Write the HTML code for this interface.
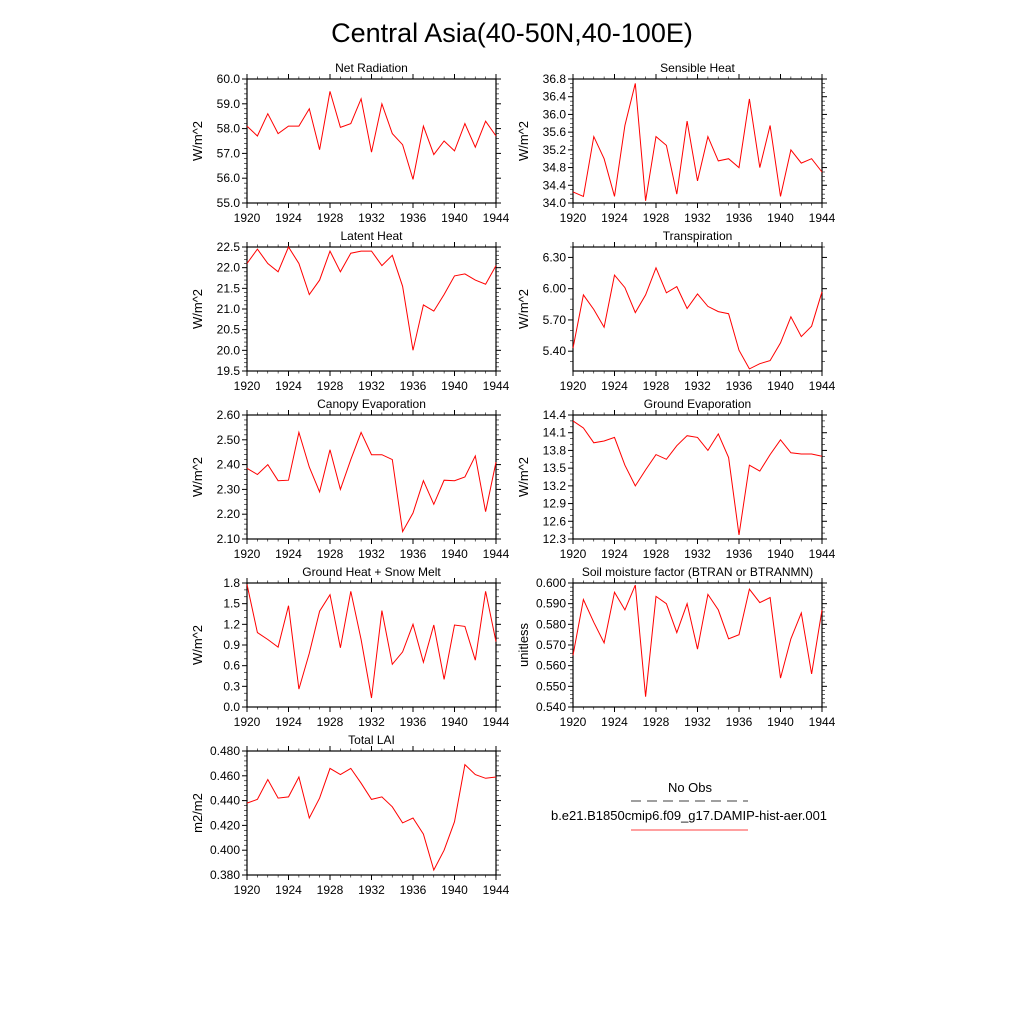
<!DOCTYPE html>
<html><head><meta charset="utf-8"><style>
body{margin:0;background:#fff}
svg{font-family:"Liberation Sans",sans-serif}
</style></head><body>
<svg id="s" width="1024" height="1024" viewBox="0 0 1024 1024" xmlns="http://www.w3.org/2000/svg">
<text x="512" y="42" font-size="27" text-anchor="middle">Central Asia(40-50N,40-100E)</text>
<g>
<text x="690" y="792" font-size="13" text-anchor="middle">No Obs</text>
<line x1="631" y1="801" x2="748" y2="801" stroke="#000" stroke-width="0.8" stroke-dasharray="10,6"/>
<text x="689" y="820" font-size="13" text-anchor="middle">b.e21.B1850cmip6.f09_g17.DAMIP-hist-aer.001</text>
<line x1="631" y1="830" x2="748" y2="830" stroke="#f00" stroke-width="0.8"/>
</g>
</svg>
<script>
const years=[];for(let y=1920;y<=1944;y++)years.push(y);
const xTicks=[1920,1924,1928,1932,1936,1940,1944];
const netRad=[58.1,57.7,58.6,57.8,58.1,58.1,58.8,57.15,59.5,58.05,58.2,59.2,57.05,59.0,57.8,57.35,55.95,58.1,56.95,57.5,57.1,58.2,57.25,58.3,57.7];
const sensible=[34.25,34.15,35.5,35.0,34.15,35.75,36.7,34.05,35.5,35.3,34.2,35.85,34.5,35.5,34.95,35.0,34.8,36.35,34.8,35.75,34.15,35.2,34.9,35.0,34.7];
const latent=[22.1,22.45,22.1,21.9,22.5,22.1,21.35,21.7,22.4,21.9,22.35,22.4,22.4,22.05,22.3,21.55,20.0,21.1,20.95,21.35,21.8,21.85,21.7,21.6,22.05];
const transp=[5.43,5.94,5.8,5.63,6.13,6.01,5.77,5.94,6.2,5.96,6.02,5.81,5.95,5.83,5.78,5.76,5.41,5.23,5.28,5.31,5.48,5.73,5.54,5.64,5.97];
const canopy=[2.385,2.36,2.40,2.335,2.337,2.53,2.39,2.29,2.46,2.30,2.42,2.53,2.44,2.44,2.42,2.13,2.205,2.335,2.24,2.337,2.335,2.35,2.435,2.21,2.41];
const groundEvap=[14.3,14.18,13.93,13.96,14.02,13.55,13.2,13.47,13.73,13.65,13.88,14.05,14.02,13.8,14.08,13.68,12.37,13.55,13.45,13.73,13.98,13.76,13.74,13.74,13.7];
const groundHeat=[1.78,1.08,0.98,0.87,1.47,0.26,0.78,1.39,1.63,0.86,1.68,0.98,0.13,1.40,0.62,0.80,1.20,0.65,1.19,0.40,1.19,1.17,0.68,1.68,0.95];
const soil=[0.565,0.592,0.581,0.571,0.5955,0.587,0.599,0.545,0.5935,0.590,0.576,0.590,0.568,0.5945,0.587,0.573,0.575,0.597,0.5905,0.593,0.554,0.573,0.5855,0.556,0.587];
const lai=[0.438,0.441,0.457,0.442,0.443,0.459,0.426,0.442,0.466,0.461,0.466,0.454,0.441,0.443,0.435,0.422,0.426,0.413,0.384,0.400,0.423,0.469,0.461,0.458,0.459];
const ticksNet=[55,56,57,58,59,60];
const ticksSens=[34.0,34.4,34.8,35.2,35.6,36.0,36.4,36.8];
const ticksLat=[19.5,20,20.5,21,21.5,22,22.5];
const ticksTr=[5.4,5.7,6.0,6.3];
const ticksCan=[2.1,2.2,2.3,2.4,2.5,2.6];
const ticksGE=[12.3,12.6,12.9,13.2,13.5,13.8,14.1,14.4];
const ticksGH=[0,0.3,0.6,0.9,1.2,1.5,1.8];
const ticksSoil=[0.54,0.55,0.56,0.57,0.58,0.59,0.6];
const ticksLai=[0.38,0.40,0.42,0.44,0.46,0.48];
const NS='http://www.w3.org/2000/svg';
const svg=document.getElementById('s');
function mk(tag,attrs,parent){const e=document.createElementNS(NS,tag);for(const k in attrs)e.setAttribute(k,attrs[k]);parent.appendChild(e);return e;}
const panels=[
 {name:'net-radiation',title:'Net Radiation',unit:'W/m^2',x:247,y:79,w:249,data:netRad,ticks:ticksNet,min:55,max:60,dec:1,minor:5},
 {name:'sensible-heat',title:'Sensible Heat',unit:'W/m^2',x:573,y:79,w:249,data:sensible,ticks:ticksSens,min:34,max:36.8,dec:1,minor:4},
 {name:'latent-heat',title:'Latent Heat',unit:'W/m^2',x:247,y:247,w:249,data:latent,ticks:ticksLat,min:19.5,max:22.5,dec:1,minor:5},
 {name:'transpiration',title:'Transpiration',unit:'W/m^2',x:573,y:247,w:249,data:transp,ticks:ticksTr,min:5.21,max:6.4,dec:2,minor:3},
 {name:'canopy-evaporation',title:'Canopy Evaporation',unit:'W/m^2',x:247,y:415,w:249,data:canopy,ticks:ticksCan,min:2.1,max:2.6,dec:2,minor:5},
 {name:'ground-evaporation',title:'Ground Evaporation',unit:'W/m^2',x:573,y:415,w:249,data:groundEvap,ticks:ticksGE,min:12.3,max:14.4,dec:1,minor:3},
 {name:'ground-heat-snow-melt',title:'Ground Heat + Snow Melt',unit:'W/m^2',x:247,y:583,w:249,data:groundHeat,ticks:ticksGH,min:0,max:1.8,dec:1,minor:3},
 {name:'soil-moisture-factor',title:'Soil moisture factor (BTRAN or BTRANMN)',unit:'unitless',x:573,y:583,w:249,data:soil,ticks:ticksSoil,min:0.54,max:0.6,dec:3,minor:5},
 {name:'total-lai',title:'Total LAI',unit:'m2/m2',x:247,y:751,w:249,data:lai,ticks:ticksLai,min:0.38,max:0.48,dec:3,minor:5}
];
const H=124;
panels.forEach(p=>{
 const g=mk('g',{},svg);
 
 
 const xs=v=>p.x+(v-1920)/(1944-1920)*p.w;
 const ys=v=>p.y+H-(v-p.min)/(p.max-p.min)*H;
 const t=mk('text',{x:p.x+p.w/2,y:p.y-7,'font-size':12,'text-anchor':'middle'},g);t.textContent=p.title;
 
 
 const yt=mk('text',{x:0,y:0,'font-size':13,'text-anchor':'middle',transform:`translate(${p.x-45},${p.y+H/2}) rotate(-90)`},g);yt.textContent=p.unit;
 
 
 // y ticks
 const step=p.ticks[1]-p.ticks[0];
 for(let i=0;i<p.ticks.length;i++){
  const v=p.ticks[i];const yy=ys(v);
  if(yy<p.y-0.5||yy>p.y+H+0.5)continue;
  mk('line',{x1:p.x-5,x2:p.x,y1:yy,y2:yy,stroke:'#000','stroke-width':1},g);
  mk('line',{x1:p.x+p.w,x2:p.x+p.w+5,y1:yy,y2:yy,stroke:'#000','stroke-width':1},g);
  const l=mk('text',{x:p.x-7,y:yy+4,'font-size':12,'text-anchor':'end'},g);l.textContent=v.toFixed(p.dec);
  
  
 }
 for(let i=-1;i<p.ticks.length;i++){
  for(let k=1;k<p.minor;k++){
   const v=p.ticks[0]+(i+k/p.minor)*step;const yy=ys(v);
   if(yy<p.y||yy>p.y+H)continue;
   mk('line',{x1:p.x-3,x2:p.x,y1:yy,y2:yy,stroke:'#000','stroke-width':0.6},g);
   mk('line',{x1:p.x+p.w,x2:p.x+p.w+3,y1:yy,y2:yy,stroke:'#000','stroke-width':0.6},g);
  }
 }
 xTicks.forEach(v=>{
  const xx=xs(v);
  mk('line',{x1:xx,x2:xx,y1:p.y+H,y2:p.y+H+5,stroke:'#000','stroke-width':1},g);
  mk('line',{x1:xx,x2:xx,y1:p.y-5,y2:p.y,stroke:'#000','stroke-width':1},g);
  const l=mk('text',{x:xx,y:p.y+H+19,'font-size':12,'text-anchor':'middle'},g);l.textContent=v;
  
  
 });
 years.forEach(v=>{if(v%4){const xx=xs(v);
  mk('line',{x1:xx,x2:xx,y1:p.y+H,y2:p.y+H+2.5,stroke:'#000','stroke-width':0.6},g);
  mk('line',{x1:xx,x2:xx,y1:p.y-2.5,y2:p.y,stroke:'#000','stroke-width':0.6},g);}});
 const r=mk('rect',{x:p.x,y:p.y,width:p.w,height:H,fill:'none',stroke:'#000','stroke-width':1.2},g);
 
 
 const pts=p.data.map((v,i)=>xs(years[i]).toFixed(1)+','+ys(v).toFixed(1)).join(' ');
 const pl=mk('polyline',{points:pts,fill:'none',stroke:'#f00','stroke-width':1},g);
 
 
});
</script>
</body></html>
